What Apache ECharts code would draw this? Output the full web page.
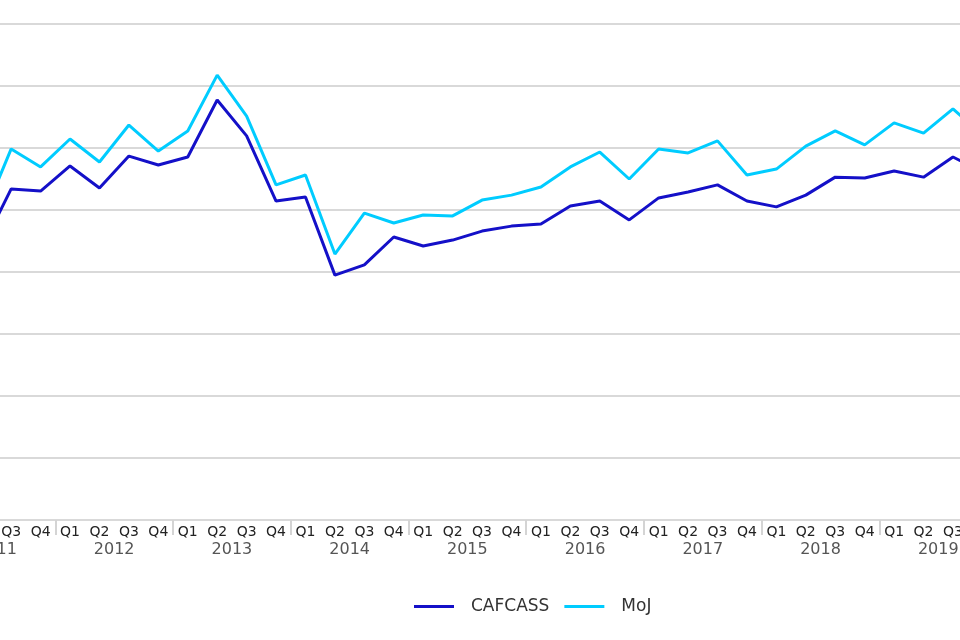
<!DOCTYPE html>
<html>
<head>
<meta charset="utf-8">
<script src="https://cdn.jsdelivr.net/npm/echarts@6/dist/echarts.min.js"></script>
<style>
html,body{margin:0;padding:0;width:960px;height:640px;overflow:hidden;background:#fff;}
#chart{position:absolute;left:-100px;top:0;width:1160px;height:640px;}
</style>
</head>
<body>
<div id="chart"></div>
<script>
const years = ['2011','2012','2013','2014','2015','2016','2017','2018','2019'];
const quarterNames = ['Q1','Q2','Q3','Q4'];
const quarters = [];
years.forEach(y => quarterNames.forEach(q => quarters.push(q + ' ' + y)));

const cafcass = [9030, 8770, 10680, 10610, 11420, 10710, 11740, 11450,
  11710, 13550, 12390, 10290, 10420, 7900, 8230, 9130,
  8840, 9030, 9320, 9480, 9550, 10130, 10290, 9680,
  10390, 10580, 10810, 10290, 10100, 10480, 11060, 11030,
  11260, 11060, 11710, 11230];
const moj = [9840, 9680, 11970, 11390, 12290, 11550, 12740, 11900,
  12550, 14350, 13030, 10810, 11130, 8580, 9900, 9580,
  9840, 9810, 10320, 10480, 10740, 11390, 11870, 11000,
  11970, 11840, 12230, 11130, 11320, 12060, 12550, 12100,
  12810, 12480, 13260, 12420];

const chart = echarts.init(document.getElementById('chart'));
chart.setOption({
  animation: false,
  textStyle: { fontFamily: 'DejaVu Sans' },
  grid: { left: 37.6, right: 62.9, top: 24, bottom: 120, containLabel: false },
  legend: {
    left: 509, top: 593,
    itemWidth: 40, itemHeight: 3, itemGap: 15,
    icon: 'rect',
    textStyle: { fontSize: 17, color: '#333', padding: [0, 0, 0, 12] },
    data: ['CAFCASS', 'MoJ']
  },
  xAxis: [
    {
      type: 'category', position: 'bottom', data: quarters,
      axisLine: { show: true, lineStyle: { color: '#d9d9d9', width: 2 } },
      axisTick: { show: false },
      axisLabel: { interval: 0, fontSize: 14, color: '#222', margin: 5,
        formatter: v => v.split(' ')[0] },
      splitLine: { show: false }
    },
    {
      type: 'category', position: 'bottom', data: years,
      axisLine: { show: false },
      axisTick: { show: true, length: 15, lineStyle: { color: '#d4d4d4', width: 2 } },
      axisLabel: { interval: 0, fontSize: 16, color: '#555', margin: 22 },
      splitLine: { show: false }
    }
  ],
  yAxis: {
    type: 'value', min: 0, max: 16000, interval: 2000,
    axisLine: { show: false }, axisTick: { show: false },
    axisLabel: { show: false },
    splitLine: { lineStyle: { color: '#d9d9d9', width: 2 } }
  },
  series: [
    { name: 'CAFCASS', type: 'line', xAxisIndex: 0, data: cafcass, showSymbol: false,
      lineStyle: { width: 3, color: '#1410c8' }, itemStyle: { color: '#1410c8' } },
    { name: 'MoJ', type: 'line', xAxisIndex: 0, data: moj, showSymbol: false,
      lineStyle: { width: 3, color: '#00ccff' }, itemStyle: { color: '#00ccff' } }
  ]
});
</script>
</body>
</html>
